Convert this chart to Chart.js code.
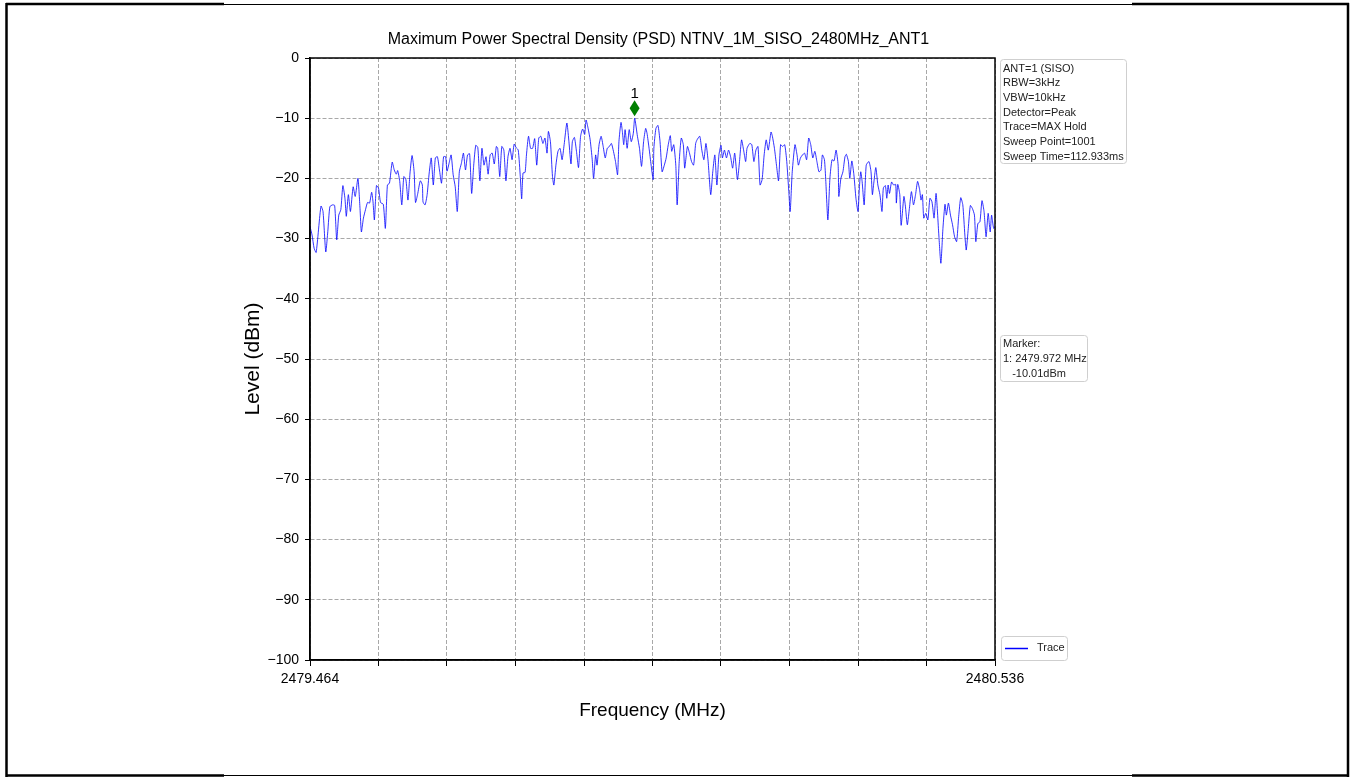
<!DOCTYPE html>
<html>
<head>
<meta charset="utf-8">
<script src="https://cdn.jsdelivr.net/npm/chart.js@4.4.1/dist/chart.umd.min.js"></script>
<style>
  html, body { margin: 0; padding: 0; background: #fff; }
  #wrap { position: relative; width: 1352px; height: 778px; }
</style>
</head>
<body>
<div id="wrap"><canvas id="psd" width="1352" height="778"></canvas></div>
<script>
// sweep settings
const startMHz = 2479.464;
const stopMHz = 2480.536;
const sweepPoints = 1001;

// trace: [sweep point index, level dBm]
const segLow = [
  [0,-28.0],[3,-29.4],[6,-31.6],[9,-32.3],[16,-24.6],[19,-25.5],[23,-32.2],[26,-28.8],[29,-24.7],[33,-24.4],
  [36,-24.5],[39,-30.2],[42,-26.1],[45,-25.2],[48,-21.2],[51,-23.3],[53,-26.3],[56,-22.7],[59,-25.5],[63,-21.4],
  [66,-23.0],[70,-20.0],[73,-25.0],[75,-28.9],[78,-26.6],[81,-25.2],[84,-24.0],[87,-24.1],[90,-22.3],[92,-23.9],
  [94,-26.9],[97,-21.2],[100,-21.6],[103,-24.0],[107,-24.3],[110,-28.3],[113,-21.1],[116,-20.8],[120,-17.3],[123,-18.6],
  [126,-19.3],[128,-18.7],[131,-20.5],[134,-24.4],[137,-19.7],[140,-20.2],[143,-23.6],[146,-19.1],[149,-16.2],[152,-18.9],
  [154,-24.0],[157,-22.7],[161,-20.4],[164,-21.1],[165,-23.9],[168,-24.4],[171,-22.7],[174,-19.1],[177,-16.6],[180,-21.1],
  [183,-16.6],[186,-16.4],[189,-18.6],[192,-20.8],[195,-16.4],[198,-16.4],[200,-18.8],[203,-17.5],[206,-16.1],[209,-19.4],
  [212,-21.4],[215,-25.5],[218,-18.9],[221,-17.5],[224,-15.8],[227,-18.6],[230,-16.1],[233,-15.9],[236,-22.5],[239,-17.8],
  [242,-14.5],[245,-14.9],[248,-20.4]
];
const segMidLow = [
  [251,-15.0],[254,-17.8],[257,-16.4],[260,-19.3],[263,-16.1],[266,-15.8],[269,-17.6],[272,-14.7],[274,-15.0],[277,-19.7],
  [280,-14.7],[283,-15.3],[286,-20.4],[289,-16.4],[292,-15.0],[295,-16.9],[298,-14.3],[301,-14.9],[304,-15.3],[307,-19.7],
  [309,-23.4],[311,-19.1],[314,-19.0],[316,-16.1],[319,-13.0],[322,-15.0],[325,-15.0],[328,-13.4],[331,-17.8],[334,-13.3],
  [337,-13.0],[340,-14.2],[343,-13.3],[346,-15.8],[348,-12.2],[351,-13.9],[354,-19.7],[356,-21.1],[359,-17.8],[362,-15.5],
  [365,-15.0],[368,-16.9],[371,-14.4],[375,-10.8],[378,-13.9],[381,-17.6],[383,-13.9],[386,-13.2],[389,-15.5],[392,-18.2],
  [395,-13.0],[398,-11.8],[401,-12.7],[403,-10.3],[406,-11.7],[409,-13.6],[412,-16.9],[414,-20.0],[417,-16.1],[419,-17.8],
  [422,-14.4],[425,-13.0],[428,-14.7],[431,-16.6],[434,-15.0],[437,-14.7],[440,-14.2],[443,-15.5],[446,-17.2],[449,-19.4],
  [451,-13.9],[454,-10.7],[456,-12.2],[458,-14.4],[460,-11.9],[463,-15.0],[466,-11.9],[469,-13.9],[472,-12.5],[474,-10.01],
  [478,-13.0],[481,-15.0],[484,-18.0],[487,-13.9],[490,-11.7],[492,-12.5],[495,-15.0],[498,-17.8],[501,-20.2]
];
const segMidHigh = [
  [502,-15.0],[505,-11.7],[508,-11.2],[511,-13.9],[514,-18.9],[517,-17.9],[520,-16.6],[523,-14.4],[526,-12.9],[528,-15.5],
  [531,-14.4],[534,-17.8],[536,-24.4],[539,-17.2],[542,-13.3],[545,-14.4],[547,-18.3],[551,-14.7],[554,-15.8],[557,-17.2],
  [560,-17.8],[563,-14.2],[565,-13.6],[569,-13.0],[572,-15.3],[575,-16.9],[578,-14.2],[581,-16.9],[585,-22.7],[588,-18.9],
  [591,-16.1],[594,-21.1],[597,-16.1],[600,-14.5],[602,-16.6],[605,-15.3],[608,-16.6],[611,-15.3],[614,-16.4],[617,-18.3],
  [620,-15.8],[624,-20.2],[627,-17.2],[630,-13.6],[633,-15.3],[636,-17.2],[638,-15.0],[642,-14.2],[645,-14.4],[648,-17.2],
  [651,-15.3],[654,-14.7],[657,-21.1],[660,-20.2],[663,-16.1],[666,-13.6],[669,-15.3],[673,-12.3],[675,-13.0],[678,-15.0],
  [681,-17.8],[684,-20.4],[687,-14.4],[690,-14.7],[693,-14.4],[696,-17.2],[699,-22.2],[701,-25.5],[704,-18.9],[708,-14.4],
  [711,-16.1],[713,-17.8],[716,-16.6],[719,-16.1],[722,-15.8],[725,-16.9],[728,-13.3],[731,-14.4],[734,-16.6],[737,-15.5],
  [740,-17.2],[743,-18.9],[746,-18.6],[748,-16.1],[751,-16.9]
];
const segHigh = [
  [753,-20.5],[756,-26.9],[759,-20.0],[762,-16.9],[765,-17.1],[768,-15.3],[771,-17.8],[772,-23.0],[775,-20.0],[778,-18.9],
  [781,-16.4],[783,-16.0],[786,-17.2],[788,-20.0],[791,-17.1],[794,-19.4],[797,-23.3],[800,-25.5],[802,-21.6],[804,-18.9],
  [806,-20.5],[809,-24.4],[812,-17.8],[816,-17.2],[819,-18.9],[821,-22.7],[823,-20.8],[826,-18.2],[829,-21.1],[832,-22.7],
  [835,-25.5],[837,-21.6],[840,-21.2],[842,-23.3],[844,-21.1],[846,-22.5],[849,-20.6],[852,-21.1],[855,-21.0],[856,-24.1],
  [858,-21.0],[861,-22.7],[863,-27.8],[867,-23.0],[869,-24.4],[872,-27.7],[875,-25.0],[878,-22.2],[881,-24.4],[884,-22.7],
  [887,-20.5],[890,-21.9],[892,-23.6],[894,-22.7],[896,-26.6],[899,-25.8],[902,-26.9],[905,-23.3],[908,-23.9],[911,-26.6],
  [914,-22.5],[918,-29.4],[921,-34.1],[924,-28.3],[927,-24.3],[929,-26.1],[932,-24.1],[935,-26.1],[938,-27.7],[941,-29.7],
  [944,-30.5],[947,-26.3],[950,-23.2],[953,-24.4],[956,-29.4],[958,-31.9],[961,-28.3],[964,-24.5],[967,-25.0],[970,-26.1],
  [972,-30.5],[975,-27.5],[978,-27.2],[981,-23.7],[984,-25.5],[987,-29.7],[990,-25.8],[993,-28.9],[995,-26.1],[998,-28.3],
  [1000,-28.0]
];

const xTickIdx = [0, 100, 200, 300, 400, 500, 600, 700, 800, 900, 1000];
const xTickLabels = ["2479.464", "", "", "", "", "", "", "", "", "", "2480.536"];
const markerFreq = [2479.972];
const markerLevel = [-10.01];
const markerNames = ["1"];
const infoLines = ["ANT=1 (SISO)", "RBW=3kHz", "VBW=10kHz", "Detector=Peak", "Trace=MAX Hold", "Sweep Point=1001", "Sweep Time=112.933ms"];
const markerLines = ["Marker:", "1: 2479.972 MHz", "   -10.01dBm"];
const chartTitle = "Maximum Power Spectral Density (PSD) NTNV_1M_SISO_2480MHz_ANT1";

const stepMHz = (stopMHz - startMHz) / (sweepPoints - 1);
const trace = [...segLow, ...segMidLow, ...segMidHigh, ...segHigh].map(([i, v]) => ({ x: startMHz + i * stepMHz, y: v }));

const FONT = '"Liberation Sans", Arial, sans-serif';

function roundBox(ctx, x, y, w, h, r) {
  ctx.beginPath();
  ctx.moveTo(x + r, y);
  ctx.lineTo(x + w - r, y);
  ctx.quadraticCurveTo(x + w, y, x + w, y + r);
  ctx.lineTo(x + w, y + h - r);
  ctx.quadraticCurveTo(x + w, y + h, x + w - r, y + h);
  ctx.lineTo(x + r, y + h);
  ctx.quadraticCurveTo(x, y + h, x, y + h - r);
  ctx.lineTo(x, y + r);
  ctx.quadraticCurveTo(x, y, x + r, y);
  ctx.closePath();
  ctx.fillStyle = "rgba(255,255,255,0.85)";
  ctx.fill();
  ctx.strokeStyle = "#cfcfcf";
  ctx.lineWidth = 1;
  ctx.stroke();
}

const decor = {
  id: "decor",
  beforeDraw(chart) {
    const ctx = chart.ctx;
    ctx.save();
    ctx.fillStyle = "#fff";
    ctx.fillRect(0, 0, chart.width, chart.height);
    ctx.restore();
  },
  afterDraw(chart) {
    const { ctx, chartArea: a, scales } = chart;
    const midX = (a.left + a.right) / 2;
    ctx.save();

    // axes frame
    ctx.strokeStyle = "#000";
    ctx.lineWidth = 1.5;
    ctx.strokeRect(a.left, a.top, a.right - a.left, a.bottom - a.top);

    // titles
    ctx.fillStyle = "#000";
    ctx.textAlign = "center";
    ctx.textBaseline = "middle";
    ctx.font = "16px " + FONT;
    ctx.fillText(chartTitle, midX + 6, a.top - 18);
    ctx.font = "19px " + FONT;
    ctx.fillText("Frequency (MHz)", midX, a.bottom + 51);
    ctx.save();
    ctx.translate(a.left - 57, (a.top + a.bottom) / 2);
    ctx.rotate(-Math.PI / 2);
    ctx.font = "21px " + FONT;
    ctx.fillText("Level (dBm)", 0, 0);
    ctx.restore();

    // peak marker
    markerFreq.forEach((f, k) => {
      const mx = scales.x.getPixelForValue(f);
      const my = scales.y.getPixelForValue(markerLevel[k]) - 10;
      ctx.beginPath();
      ctx.moveTo(mx, my - 8);
      ctx.lineTo(mx + 5, my);
      ctx.lineTo(mx, my + 8);
      ctx.lineTo(mx - 5, my);
      ctx.closePath();
      ctx.fillStyle = "#008000";
      ctx.fill();
      ctx.fillStyle = "#000";
      ctx.font = "15px " + FONT;
      ctx.fillText(markerNames[k], mx, my - 14);
    });

    // info box
    ctx.textAlign = "left";
    ctx.font = "11px " + FONT;
    roundBox(ctx, a.right + 5.5, a.top + 1.5, 126, 104, 3);
    ctx.fillStyle = "#222";
    infoLines.forEach((t, i) => ctx.fillText(t, a.right + 8, a.top + 10.5 + i * 14.7));

    // marker box
    roundBox(ctx, a.right + 5.5, a.top + 277.5, 87, 46, 3);
    ctx.fillStyle = "#222";
    markerLines.forEach((t, i) => ctx.fillText(t, a.right + 8, a.top + 285.5 + i * 15));

    // legend
    roundBox(ctx, a.right + 6.5, a.bottom - 23.5, 66, 24, 3);
    ctx.strokeStyle = "#0000ff";
    ctx.lineWidth = 1.5;
    ctx.beginPath();
    ctx.moveTo(a.right + 10, a.bottom - 11.5);
    ctx.lineTo(a.right + 33, a.bottom - 11.5);
    ctx.stroke();
    ctx.fillStyle = "#222";
    ctx.fillText("Trace", a.right + 42, a.bottom - 12);

    // page frame
    ctx.strokeStyle = "#000";
    ctx.lineWidth = 1;
    ctx.strokeRect(6.5, 4.5, 1341, 771);
    ctx.lineWidth = 2.5;
    ctx.beginPath();
    ctx.moveTo(6, 4); ctx.lineTo(224, 4);
    ctx.moveTo(1132, 4); ctx.lineTo(1349, 4);
    ctx.moveTo(6, 775.5); ctx.lineTo(224, 775.5);
    ctx.moveTo(1132, 775.5); ctx.lineTo(1349, 775.5);
    ctx.moveTo(6.5, 3); ctx.lineTo(6.5, 777);
    ctx.moveTo(1348, 3); ctx.lineTo(1348, 777);
    ctx.stroke();

    ctx.restore();
  }
};

document.addEventListener("DOMContentLoaded", () => {
  new Chart(document.querySelector("#psd"), {
    type: "line",
    data: {
      datasets: [
        {
          label: "Trace",
          data: trace,
          borderColor: "rgba(0, 0, 255, 0.8)",
          borderWidth: 1,
          pointRadius: 0,
          tension: 0.2,
          fill: false,
        },
      ],
    },
    options: {
      responsive: false,
      animation: false,
      devicePixelRatio: 1,
      layout: { padding: { left: 250, right: 357, top: 58, bottom: 88 } },
      scales: {
        x: {
          type: "linear",
          min: startMHz,
          max: stopMHz,
          afterBuildTicks: (scale) => {
            scale.ticks = xTickIdx.map((i) => ({ value: startMHz + i * stepMHz }));
          },
          afterFit: (scale) => { scale.height = 30; },
          ticks: {
            autoSkip: false,
            maxRotation: 0,
            padding: 5,
            color: "#000",
            font: { size: 14, family: FONT },
            callback: (v, i) => xTickLabels[i],
          },
          grid: { color: "#a8a8a8", lineWidth: 1, tickLength: 6, tickColor: "#000", tickWidth: 1 },
          border: { color: "#000", width: 1.5, dash: [4, 2] },
        },
        y: {
          min: -100,
          max: 0,
          afterFit: (scale) => { scale.width = 60; },
          ticks: {
            stepSize: 10,
            padding: 6,
            color: "#000",
            font: { size: 14, family: FONT },
            callback: (v) => String(v).replace("-", "\u2212"),
          },
          grid: { color: "#a8a8a8", lineWidth: 1, tickLength: 5, tickColor: "#000", tickWidth: 1 },
          border: { color: "#000", width: 1.5, dash: [4, 2] },
        },
      },
      plugins: {
        legend: { display: false },
        title: { display: false },
        tooltip: { enabled: false },
      },
    },
    plugins: [decor],
  });
});
</script>
</body>
</html>
